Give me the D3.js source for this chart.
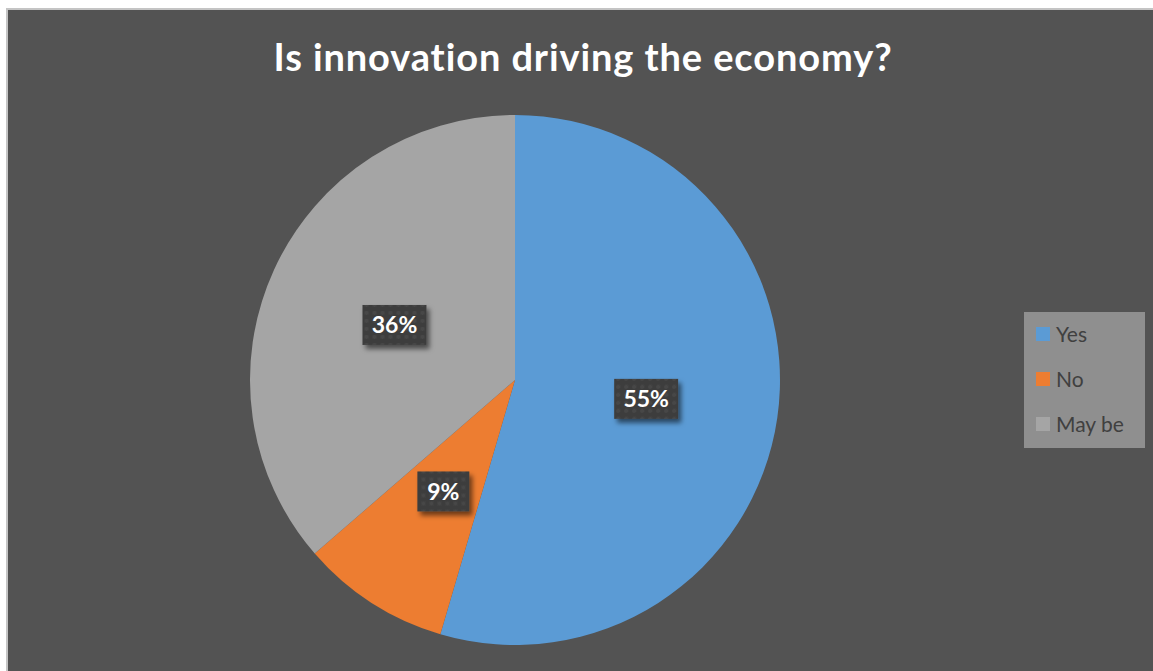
<!DOCTYPE html>
<html>
<head>
<meta charset="utf-8">
<script src="https://cdn.jsdelivr.net/npm/d3@7"></script>
<style>
  body { margin: 0; background: #ffffff; }
  svg { display: block; }
  text { font-variant-ligatures: none; }
</style>
</head>
<body>
<div id="chart"></div>
<script>
// values (slices look like 6/11, 1/11, 4/11)
var categories = ['Yes', 'No', 'May be'];
var counts = [6, 1, 4];
var colors = ['#5B9BD5', '#ED7D31', '#A5A5A5'];
var title = 'Is innovation driving the economy?';

var w = 1153, h = 671;

var svg = d3.select('#chart')
    .append('svg')
    .attr('width', w)
    .attr('height', h);

var defs = svg.append('defs');

defs.append('filter')
    .attr('id', 'shadow')
    .attr('x', '-30%').attr('y', '-30%')
    .attr('width', '160%').attr('height', '160%')
    .append('feDropShadow')
    .attr('dx', 3).attr('dy', 4)
    .attr('stdDeviation', 2.5)
    .attr('flood-color', '#000')
    .attr('flood-opacity', 0.55);

var pat = defs.append('pattern')
    .attr('id', 'dots')
    .attr('width', 8).attr('height', 8)
    .attr('patternUnits', 'userSpaceOnUse');
pat.append('rect').attr('width', 8).attr('height', 8).attr('fill', '#3e3e3e');
pat.append('circle').attr('cx', 4).attr('cy', 4).attr('r', 2).attr('fill', '#474747');

// chart area
svg.append('rect')
    .attr('x', 7).attr('y', 9)
    .attr('width', w).attr('height', h)
    .attr('fill', '#535353')
    .attr('stroke', '#c4c4c4')
    .attr('stroke-width', 2);

svg.append('text')
    .attr('x', 583)
    .attr('y', 71)
    .attr('text-anchor', 'middle')
    .attr('fill', '#ffffff')
    .style('font-family', 'Lato, "Open Sans", sans-serif')
    .style('font-weight', 'bold')
    .style('font-size', '38px')
    .style('letter-spacing', '0.9px')
    .text(title);

var cx = 515, cy = 380, radius = 265;

var data = categories.map(function(c, i){
    return {key: c, value: counts[i], color: colors[i]};
});

var total = d3.sum(counts);

function pct(d){
    return Math.round(d.data.value / total * 100);
}

var pie = d3.pie()
    .sort(null)
    .value(function(d){ return d.value; });

var arc = d3.arc()
    .innerRadius(0)
    .outerRadius(radius);

var labelArc = d3.arc()
    .innerRadius(radius * 0.5)
    .outerRadius(radius * 0.5);

var g = svg.append('g')
    .attr('transform', 'translate(' + cx + ',' + cy + ')');

var arcs = pie(data);

g.selectAll('path.slice')
    .data(arcs)
    .enter()
    .append('path')
    .attr('class', 'slice')
    .attr('d', arc)
    .attr('fill', function(d){ return d.data.color; });

var labels = g.selectAll('g.lab')
    .data(arcs)
    .enter()
    .append('g')
    .attr('class', 'lab')
    .attr('transform', function(d){
        return 'translate(' + labelArc.centroid(d) + ')';
    });

labels.append('rect')
    .attr('x', function(d){ return pct(d) < 10 ? -26 : -32; })
    .attr('y', -20)
    .attr('width', function(d){ return pct(d) < 10 ? 52 : 64; })
    .attr('height', 40)
    .attr('fill', 'url(#dots)')
    .attr('filter', 'url(#shadow)');

labels.append('text')
    .attr('text-anchor', 'middle')
    .attr('dy', '0.36em')
    .attr('fill', '#ffffff')
    .style('font-family', 'Lato, "Open Sans", sans-serif')
    .style('font-weight', 'bold')
    .style('font-size', '23px')
    .text(function(d){ return pct(d) + '%'; });

// legend
var legend = svg.append('g')
    .attr('transform', 'translate(1024,312)');

legend.append('rect')
    .attr('width', 121)
    .attr('height', 136)
    .attr('fill', '#8f8f8f');

var items = legend.selectAll('g.item')
    .data(data)
    .enter()
    .append('g')
    .attr('class', 'item')
    .attr('transform', function(d, i){ return 'translate(12,' + (22 + i * 45) + ')'; });

items.append('rect')
    .attr('x', 0).attr('y', -7)
    .attr('width', 14).attr('height', 14)
    .attr('fill', function(d){ return d.color; });

items.append('text')
    .attr('x', 20)
    .attr('dy', '0.36em')
    .attr('fill', '#404040')
    .style('font-family', 'Lato, "Open Sans", sans-serif')
    .style('font-size', '21px')
    .text(function(d){ return d.key; });
</script>
</body>
</html>
